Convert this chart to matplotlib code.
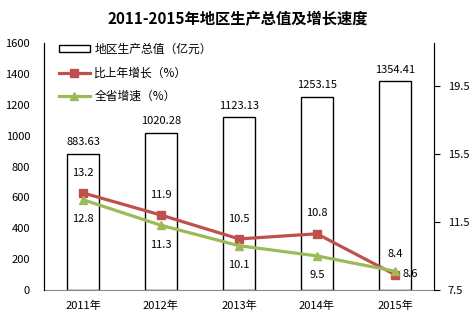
import matplotlib
matplotlib.use('Agg')
import matplotlib.pyplot as plt
import numpy as np

plt.rcParams['font.family'] = ['Noto Sans CJK SC', 'DejaVu Sans']

years = ['2011年', '2012年', '2013年', '2014年', '2015年']
gdp = [883.63, 1020.28, 1123.13, 1253.15, 1354.41]
growth = [13.2, 11.9, 10.5, 10.8, 8.4]
prov_growth = [12.8, 11.3, 10.1, 9.5, 8.6]

red = '#C0504D'
green = '#9BBB59'

fig = plt.figure(figsize=(4.75, 3.24), dpi=100)
ax = fig.add_axes([0.0926, 0.105, 0.821, 0.762])
ax2 = ax.twinx()

x = np.arange(len(years))
bars = ax.bar(x, gdp, width=0.4, facecolor='white', edgecolor='black', linewidth=1.0,
              label='地区生产总值（亿元）', zorder=1)
ax.set_ylim(0, 1600)
ax.set_xlim(-0.5, len(years) - 0.5)
ax.set_yticks(range(0, 1601, 200))
ax.tick_params(axis='y', length=0, labelsize=8, pad=10)
ax.tick_params(axis='x', length=0, labelsize=8, pad=8)
ax.set_xticks(x)
ax.set_xticklabels(years)
for v, xi in zip(gdp, x):
    ax.text(xi, v + 40, f'{v:.2f}', ha='center', va='bottom', fontsize=8)

l1, = ax2.plot(x, growth, color=red, lw=2.3, marker='s', markersize=6, label='比上年增长（%）')
l2, = ax2.plot(x, prov_growth, color=green, lw=2.3, marker='^', markersize=6, label='全省增速（%）')
ax2.set_ylim(7.5, 22)
ax2.set_yticks([7.5, 11.5, 15.5, 19.5])
ax2.tick_params(axis='y', length=4, labelsize=8, pad=6)

for i, (r, g) in enumerate(zip(growth, prov_growth)):
    ax2.text(x[i], r + 0.9, f'{r}', ha='center', va='bottom', fontsize=8)
    if i == len(years) - 1:
        ax2.text(x[i] + 0.1, g - 0.15, f'{g}', ha='left', va='center', fontsize=8)
    else:
        ax2.text(x[i], g - 0.85, f'{g}', ha='center', va='top', fontsize=8)

for a in (ax, ax2):
    a.spines['top'].set_visible(False)
ax.spines['bottom'].set_color('#888888')
ax2.spines['bottom'].set_visible(False)

ax.legend([bars, l1, l2], [bars.get_label(), l1.get_label(), l2.get_label()],
          loc='upper left', bbox_to_anchor=(0.02, 1.03), frameon=False, fontsize=8.5,
          handlelength=2.6, handleheight=0.5, labelspacing=0.9, handletextpad=0.4,
          borderaxespad=0.2)

fig.suptitle('2011-2015年地区生产总值及增长速度', x=0.5, y=0.965, fontsize=11, fontweight='bold')

fig.savefig('out.png', dpi=100)
